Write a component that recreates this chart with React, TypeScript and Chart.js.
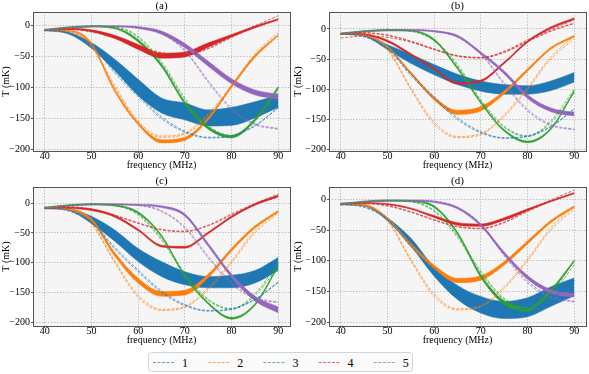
import React, { useEffect, useRef } from 'react';
import { Chart, registerables } from 'chart.js';

Chart.register(...registerables);

const FONT = '"Liberation Serif", "Times New Roman", "DejaVu Serif", serif';

// ---------------- data ----------------
const freq = [40, 45, 50, 55, 60, 65, 70, 75, 80, 85, 90];
const xTicks = [40, 50, 60, 70, 80, 90];
const yTicks = [0, -50, -100, -150, -200];
const seriesLabels = ['1', '2', '3', '4', '5'];
const seriesColors = ['#1f77b4', '#ff7f0e', '#2ca02c', '#d62728', '#9467bd'];
const dashColors = ['rgba(31,119,180,0.7)', 'rgba(255,127,14,0.7)', 'rgba(44,160,44,0.7)', 'rgba(214,39,40,0.7)', 'rgba(148,103,189,0.7)'];

// reference (dashed) curves, shared by all panels
const refBlue = [-8, -13, -33, -77, -115, -150, -172, -181, -178, -162, -133];
const refOrange = [-8, -11, -35, -100, -158, -180, -175, -145, -100, -50, -16];
const refGreen = [-8, -4, -2, -4, -20, -62, -120, -163, -178, -155, -106];
const refRed = [-9, -7, -11, -21, -34, -45, -48, -38, -20, -3, 10];
const refPurple = [-8, -4, -2, -2, -4, -14, -42, -92, -136, -160, -167];

const altBlue = [-8, -12, -31, -74, -112, -147, -170, -180, -177, -161, -132];
const altOrange = [-8, -10, -33, -97, -154, -178, -173, -142, -97, -46, -12];
const altGreen = [-8, -4, -2, -3, -18, -59, -117, -161, -177, -152, -100];
const altRed = [-8, -6, -10, -20, -33, -44, -47, -37, -18, -1, 15];
const altPurple = [-8, -4, -2, -2, -3, -13, -40, -89, -133, -158, -166];

const refCurves = [refBlue, refOrange, refGreen, refRed, refPurple];
const altCurves = [altBlue, altOrange, altGreen, altRed, altPurple];

// panel (a) bands
const aLower = [
  [-9, -14, -37, -73, -113, -141, -152, -162, -161, -149, -132],
  [-9, -10, -32, -107, -160, -189, -185, -152, -100, -52, -17],
  [-9, -5, -3, -6, -27, -67, -127, -167, -181, -154, -102],
  [-9, -7, -10.5, -21.5, -39, -53, -51, -35.5, -19, -4.5, 8],
  [-9, -5, -3, -3, -5.5, -14.5, -36.5, -66, -94, -112, -119],
];
const aUpper = [
  [-7, -11, -28, -55, -87, -117, -125, -136, -132, -123, -112],
  [-7, -8, -28, -103, -156, -184, -180, -148, -96, -48, -15],
  [-7, -3, -1, -4, -23, -63, -123, -163, -177, -150, -98],
  [-7, -5, -7.5, -16.5, -31, -45, -43, -28.5, -15, -1.5, 10],
  [-7, -3, -1, -1, -2.5, -9.5, -29.5, -58, -86, -104, -111],
];

// panel (b) bands
const bLower = [
  [-9, -12, -34, -57, -76, -92, -103, -108, -108, -102, -88],
  [-9, -11, -31.5, -75, -117.5, -141.5, -135.5, -107.5, -70, -33.5, -13.5],
  [-9, -5, -3, -4, -19.5, -66.5, -123.5, -169.5, -188.5, -166.5, -104.5],
  [-9, -10, -21.5, -43.5, -67.5, -91.5, -87.5, -57.5, -22.5, 0.5, 15.5],
  [-9, -5, -3, -3, -5, -13.5, -42, -74.5, -115, -137, -144],
];
const bUpper = [
  [-7, -9, -26, -42, -59, -75, -86, -92, -94, -86, -72],
  [-7, -9, -28.5, -71, -112.5, -134.5, -128.5, -102.5, -66, -30.5, -10.5],
  [-7, -3, -1, -2, -16.5, -63.5, -120.5, -166.5, -185.5, -163.5, -101.5],
  [-7, -8, -18.5, -40.5, -64.5, -88.5, -84.5, -54.5, -19.5, 3.5, 18.5],
  [-7, -3, -1, -1, -3, -10.5, -38, -69.5, -109, -131, -138],
];
const bExtraRed = [-15, -12, -14, -22, -34, -45, -48, -39, -21, -4, 9];

// panel (c) bands
const cLower = [
  [-9, -12, -34, -64, -98, -123, -137, -142, -142, -134, -113],
  [-9, -11, -30, -89, -134, -156, -154, -125, -80.5, -42, -15.5],
  [-9, -5, -3, -5, -17.5, -56.5, -123.5, -169.5, -194.5, -171.5, -106.5],
  [-10, -9, -12.5, -23.5, -46.5, -73.5, -75.5, -51.5, -24.5, -3.5, 10.5],
  [-9, -5, -3, -3, -4, -7.5, -22, -72.5, -125, -164, -184],
];
const cUpper = [
  [-7, -9, -22, -45, -76, -98, -115, -123, -121, -113, -91],
  [-7, -9, -26, -83, -126, -148, -146, -119, -75.5, -38, -12.5],
  [-7, -3, -1, -3, -14.5, -53.5, -120.5, -166.5, -191.5, -168.5, -103.5],
  [-8, -7, -9.5, -20.5, -43.5, -70.5, -72.5, -48.5, -21.5, -0.5, 13.5],
  [-7, -3, -1, -1, -2, -4.5, -18, -67.5, -119, -156, -174],
];

// panel (d) bands
const dLower = [
  [-9, -11, -35, -76, -125, -163, -185, -194, -191, -174, -157],
  [-9, -10, -32.5, -76.5, -113, -135.5, -131.5, -107, -72.5, -38, -13.5],
  [-9, -5, -3, -4, -13.5, -57, -127.5, -171, -182, -150, -101.5],
  [-8, -7, -9, -16, -29.5, -42, -44, -34, -18.5, -4, 9],
  [-9, -5, -3, -3, -5, -15.5, -44, -90.5, -130, -153, -159],
];
const dUpper = [
  [-7, -9, -30, -63, -110, -140, -158, -166, -160, -142, -128],
  [-7, -8, -29.5, -71.5, -107, -128.5, -124.5, -101, -67.5, -34, -10.5],
  [-7, -3, -1, -2, -10.5, -53, -122.5, -165, -176, -146, -98.5],
  [-6, -5, -7, -14, -26.5, -38, -40, -30, -15.5, -2, 11],
  [-7, -3, -1, -1, -3, -12.5, -40, -85.5, -124, -147, -153],
];

const panelTitles = ['(a)', '(b)', '(c)', '(d)'];
const panelLower = [aLower, bLower, cLower, dLower];
const panelUpper = [aUpper, bUpper, cUpper, dUpper];
const panelYMin = [-202, -202, -206, -206];
const panelYMax = [21, 28, 27, 20];
const panelExtras = [[], [{ series: 3, values: bExtraRed }], [], []];

// ---------------- layout ----------------
const panelBoxes = [
  { left: 0, top: 0, width: 292, height: 174, yWidth: 33, padRight: 2 },
  { left: 292, top: 0, width: 297, height: 174, yWidth: 37, padRight: 3 },
  { left: 0, top: 175, width: 292, height: 174, yWidth: 33, padRight: 2 },
  { left: 292, top: 175, width: 297, height: 174, yWidth: 37, padRight: 3 },
];

const fmt = (v: number) => (v < 0 ? '\u2212' + Math.abs(v) : String(v));
const pts = (vals: number[]) => freq.map((f, j) => ({ x: f, y: vals[j] }));

const decoPlugin = {
  id: 'panelDeco',
  beforeDraw(chart: any) {
    const { ctx, chartArea } = chart;
    const { left, top, right, bottom } = chartArea;
    ctx.save();
    ctx.fillStyle = '#f5f5f5';
    ctx.fillRect(left, top, right - left, bottom - top);
    ctx.restore();
  },
  afterDraw(chart: any, _args: any, opts: any) {
    const { ctx, chartArea } = chart;
    const { left, top, right, bottom } = chartArea;
    ctx.save();
    ctx.strokeStyle = '#555';
    ctx.lineWidth = 1;
    ctx.strokeRect(Math.round(left) + 0.5, Math.round(top) + 0.5, Math.round(right - left), Math.round(bottom - top));
    ctx.fillStyle = '#000';
    ctx.font = `11px ${FONT}`;
    ctx.textAlign = 'center';
    ctx.textBaseline = 'middle';
    ctx.fillText(opts.text, (left + right) / 2, top - 6);
    ctx.restore();
  },
};

function dashed(i: number, vals: number[]) {
  return {
    label: seriesLabels[i],
    data: pts(vals),
    borderColor: dashColors[i],
    borderWidth: 1,
    borderDash: [3, 1.5],
    fill: false,
    pointRadius: 0,
    cubicInterpolationMode: 'monotone',
    order: 0,
  };
}

function buildDatasets(p: number) {
  const ds: any[] = [];
  for (let i = 0; i < 5; i++) {
    ds.push({
      label: seriesLabels[i] + ' band lo',
      data: pts(panelLower[p][i]),
      borderColor: seriesColors[i],
      borderWidth: 0.5,
      backgroundColor: seriesColors[i],
      fill: false,
      pointRadius: 0,
      cubicInterpolationMode: 'monotone',
      order: 10 - i,
    });
    ds.push({
      label: seriesLabels[i] + ' band hi',
      data: pts(panelUpper[p][i]),
      borderColor: seriesColors[i],
      borderWidth: 0.5,
      backgroundColor: seriesColors[i],
      fill: '-1',
      pointRadius: 0,
      cubicInterpolationMode: 'monotone',
      order: 10 - i,
    });
  }
  for (let i = 0; i < 5; i++) {
    ds.push(dashed(i, refCurves[i]));
    ds.push(dashed(i, altCurves[i]));
  }
  panelExtras[p].forEach((e: any) => ds.push(dashed(e.series, e.values)));
  return ds;
}

function Panel({ p }: { p: number }) {
  const ref = useRef<HTMLCanvasElement | null>(null);
  const box = panelBoxes[p];
  useEffect(() => {
    if (!ref.current) return;
    const chart = new Chart(ref.current, {
      type: 'line',
      data: { datasets: buildDatasets(p) },
      plugins: [decoPlugin],
      options: {
        animation: false,
        responsive: false,
        events: [],
        layout: { padding: { left: 0, right: box.padRight, top: 12, bottom: 0 } },
        plugins: {
          legend: { display: false },
          tooltip: { enabled: false },
          title: { display: false },
          panelDeco: { text: panelTitles[p] },
          filler: { propagate: false },
        } as any,
        scales: {
          x: {
            type: 'linear',
            min: 37.5,
            max: 92.5,
            afterBuildTicks: (s: any) => {
              s.ticks = xTicks.map((v) => ({ value: v }));
            },
            afterFit: (s: any) => {
              s.height = 23;
            },
            ticks: {
              autoSkip: false,
              maxRotation: 0,
              padding: -3,
              color: '#000',
              font: { size: 10, family: FONT },
              callback: (v: any) => fmt(Number(v)),
            },
            grid: { color: 'rgba(175,175,175,0.9)', lineWidth: 0.8, tickLength: 2, tickColor: '#555', tickWidth: 1 },
            border: { display: false, dash: [1.5, 1.5] },
            title: {
              display: true,
              text: 'frequency (MHz)',
              color: '#000',
              font: { size: 10, family: FONT },
              padding: { top: 0, bottom: 3 },
            },
          },
          y: {
            type: 'linear',
            min: panelYMin[p],
            max: panelYMax[p],
            afterBuildTicks: (s: any) => {
              s.ticks = yTicks.map((v) => ({ value: v }));
            },
            afterFit: (s: any) => {
              s.width = box.yWidth;
            },
            ticks: {
              autoSkip: false,
              padding: 1,
              color: '#000',
              font: { size: 10, family: FONT },
              callback: (v: any) => fmt(Number(v)),
            },
            grid: { color: 'rgba(175,175,175,0.9)', lineWidth: 0.8, tickLength: 2, tickColor: '#555', tickWidth: 1 },
            border: { display: false, dash: [1.5, 1.5] },
            title: {
              display: true,
              text: 'T (mK)',
              color: '#000',
              font: { size: 10, family: FONT },
              padding: { top: 0, bottom: 0 },
            },
          },
        },
      } as any,
    });
    return () => chart.destroy();
  }, [p]);
  return (
    <canvas
      ref={ref}
      width={box.width}
      height={box.height}
      style={{ position: 'absolute', left: box.left, top: box.top, width: box.width, height: box.height }}
    />
  );
}

function Legend() {
  return (
    <svg
      width={267}
      height={22}
      style={{ position: 'absolute', left: 147, top: 351 }}
    >
      <rect x={1.5} y={1.5} width={264} height={19} rx={3} ry={3} fill="#fafafa" stroke="#d4d4d4" strokeWidth={1} />
      {seriesLabels.map((lab, i) => (
        <g key={lab}>
          <line
            x1={6 + i * 55.2}
            y1={11.5}
            x2={27 + i * 55.2}
            y2={11.5}
            stroke={dashColors[i]}
            strokeWidth={1}
            strokeDasharray="3 1.5"
          />
          <text
            x={38 + i * 55.2}
            y={15.5}
            fill="#000"
            textAnchor="middle"
            style={{ fontFamily: FONT, fontSize: 12 }}
          >
            {lab}
          </text>
        </g>
      ))}
    </svg>
  );
}

export default function App() {
  return (
    <div style={{ position: 'fixed', left: 0, top: 0, width: 589, height: 374, background: '#fff', overflow: 'hidden' }}>
      {[0, 1, 2, 3].map((p) => (
        <Panel key={p} p={p} />
      ))}
      <Legend />
    </div>
  );
}
